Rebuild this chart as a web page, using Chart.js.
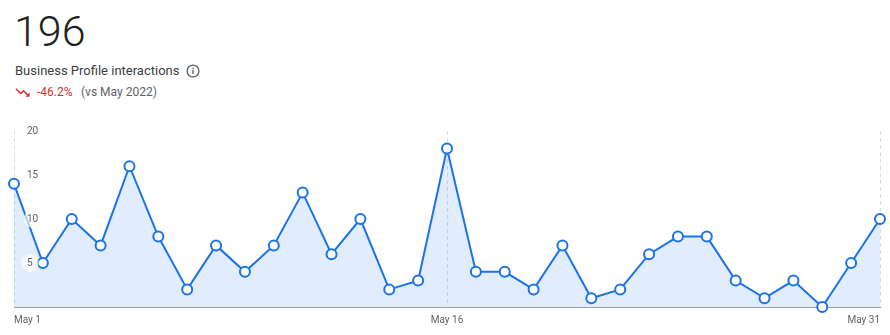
<!DOCTYPE html>
<html>
<head>
<meta charset="utf-8">
<script src="https://cdn.jsdelivr.net/npm/chart.js@4"></script>
<style>
  html, body { margin: 0; padding: 0; background: #fff; }
  body { width: 890px; height: 335px; position: relative; overflow: hidden; font-family: Roboto, "Noto Sans", sans-serif; }
  .big { position: absolute; left: 14px; top: 10px; font-size: 43px; line-height: 1; color: #202124; font-weight: 300; }
  .title { position: absolute; left: 15px; top: 64px; font-size: 13px; line-height: 1; color: #3c4043; }
  .info { position: absolute; left: 186px; top: 64px; }
  .trend { position: absolute; left: 13.6px; top: 84px; }
  .pct { position: absolute; left: 37px; top: 86px; font-size: 12px; line-height: 1; color: #d93025; }
  .vs { position: absolute; left: 81px; top: 86px; font-size: 12px; line-height: 1; color: #5f6368; }
  #wrap { position: absolute; left: 0; top: 120px; width: 890px; height: 215px; }
</style>
</head>
<body>
<div class="big">196</div>
<div class="title">Business Profile interactions</div>
<svg class="info" width="14" height="14" viewBox="0 0 14 14">
  <circle cx="7" cy="7" r="5.9" fill="none" stroke="#5f6368" stroke-width="1.4"/>
  <rect x="6.3" y="6" width="1.4" height="4" fill="#5f6368"/>
  <rect x="6.3" y="3.8" width="1.4" height="1.4" fill="#5f6368"/>
</svg>
<svg class="trend" width="17" height="17" viewBox="0 0 24 24">
  <path d="M16 18l2.29-2.29-4.88-4.88-4 4L2 7.41 3.41 6l6 6 4-4 6.3 6.29L22 12v6z" fill="#d93025"/>
</svg>
<div class="pct">-46.2%</div>
<div class="vs">(vs May 2022)</div>
<div id="wrap"><canvas id="c"></canvas></div>
<script>
const categories = ['May 1','May 2','May 3','May 4','May 5','May 6','May 7','May 8','May 9','May 10',
  'May 11','May 12','May 13','May 14','May 15','May 16','May 17','May 18','May 19','May 20',
  'May 21','May 22','May 23','May 24','May 25','May 26','May 27','May 28','May 29','May 30','May 31'];
const interactions = [14,5,10,7,16,8,2,7,4,7,13,6,10,2,3,18,4,4,2,7,1,2,6,8,8,3,1,3,0,5,10];
const shownLabelIndexes = [0, 15, 30];
const yTickValues = [5, 10, 15, 20];

const tickBackdrops = {
  id: 'tickBackdrops',
  afterDatasetsDraw(chart) {
    const y = chart.scales.y;
    const ctx = chart.ctx;
    ctx.save();
    ctx.font = '10px Roboto';
    yTickValues.forEach(v => {
      const py = y.getPixelForValue(v);
      const w = ctx.measureText(String(v)).width;
      const cx = chart.chartArea.left + 13 + w / 2;
      ctx.beginPath();
      ctx.arc(cx, py, 9, 0, Math.PI * 2);
      ctx.fillStyle = 'rgba(255,255,255,0.65)';
      ctx.fill();
    });
    ctx.restore();
  }
};

new Chart(document.getElementById('c'), {
  type: 'line',
  data: {
    labels: categories,
    datasets: [{
      data: interactions,
      borderColor: '#1a73e8',
      borderWidth: 2,
      backgroundColor: 'rgba(26,115,232,0.13)',
      fill: 'origin',
      tension: 0,
      pointRadius: 5,
      pointHoverRadius: 5,
      pointBackgroundColor: '#ffffff',
      pointBorderColor: '#1a73e8',
      pointBorderWidth: 2,
      clip: false
    }]
  },
  options: {
    responsive: true,
    maintainAspectRatio: false,
    animation: false,
    layout: { padding: { left: 14, right: 10, top: 11, bottom: 0 } },
    plugins: { legend: { display: false }, tooltip: { enabled: false } },
    scales: {
      x: {
        offset: false,
        afterFit: s => { s.height = 28; },
        grid: {
          drawTicks: false,
          color: ctx => shownLabelIndexes.includes(ctx.index) ? '#dadce0' : 'rgba(0,0,0,0)',
          lineWidth: 1
        },
        border: { display: true, color: '#9aa0a6', width: 1, dash: [4, 3] },
        ticks: {
          autoSkip: false,
          maxRotation: 0,
          align: 'inner',
          padding: 7,
          color: '#5f6368',
          font: { family: 'Roboto', size: 10 },
          callback: function(v, i) { return shownLabelIndexes.includes(i) ? categories[i] : ''; }
        }
      },
      y: {
        min: 0,
        max: 20,
        z: 1,
        afterFit: s => { s.width = 0; s.paddingTop = 0; s.paddingBottom = 0; },
        grid: { display: false, drawTicks: false },
        border: { display: false },
        ticks: {
          z: 1,
          stepSize: 5,
          mirror: true,
          padding: 13,
          color: '#5f6368',
          font: { family: 'Roboto', size: 10 },
          callback: v => yTickValues.includes(v) ? String(v) : ''
        }
      }
    }
  },
  plugins: [tickBackdrops]
});
</script>
</body>
</html>
